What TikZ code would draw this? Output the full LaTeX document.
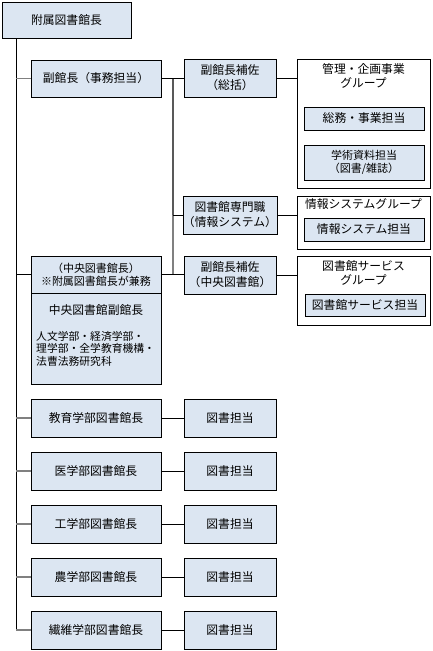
\documentclass[tikz,border=0pt]{standalone}
\usepackage{fontspec}
\setmainfont{Noto Sans CJK JP}
\usepackage{xcolor}
\usepackage{tikz}

\definecolor{boxfill}{HTML}{DCE6F2}
\definecolor{tickgray}{HTML}{808080}
\definecolor{branchgray}{HTML}{595959}

\begin{document}
\begin{tikzpicture}[x=1pt, y=-1pt,
		post/.style={draw=black, fill=boxfill, line width=0.8pt, inner sep=0pt, align=center,
			font=\fontsize{11.8}{15}\selectfont},
		group/.style={draw=black, fill=white, line width=0.8pt, inner sep=0pt},
		grouptitle/.style={inner sep=0pt, align=center, font=\fontsize{11.8}{13.5}\selectfont},
		tick/.style={draw=tickgray, line width=1.2pt},
		link/.style={draw=black, line width=0.8pt}]
			\useasboundingbox (0,0) rectangle (432,651);

			\def\dy{53}

			% Make nodes
			\node[post, minimum width=129pt, minimum height=36pt] (top) at (66.5,20) {附属図書館長};
			\node[post, minimum width=130pt, minimum height=37pt] (vice) at (96,78.5) {副館長（事務担当）};

			\node[post, minimum width=92pt, minimum height=38pt] (hosa1) at (230,78) {副館長補佐\\（総括）};
			\node[post, minimum width=92pt, minimum height=38pt] (senmon) at (230,215) {図書館専門職\\（情報システム）};
			\node[post, minimum width=92pt, minimum height=38pt] (hosa2) at (230,275) {副館長補佐\\（中央図書館）};

			\node[group, minimum width=133pt, minimum height=129pt] (kanri) at (363.5,123.5) {};
			\node[grouptitle, anchor=north] (kanrititle) at ([yshift=-5pt]kanri.north) {管理・企画事業\\グループ};
			\node[post, minimum width=120pt, minimum height=23pt] (soumu) at (364,118.5) {総務・事業担当};
			\node[post, minimum width=120pt, minimum height=35pt, font=\fontsize{11}{13}\selectfont] (gakujutsu) at (364,162.5) {学術資料担当\\（図書/雑誌）};

			\node[group, minimum width=133pt, minimum height=53pt] (joho) at (363.5,222.5) {};
			\node[grouptitle, anchor=north] (johotitle) at ([yshift=-3pt]joho.north) {情報システムグループ};
			\node[post, minimum width=120pt, minimum height=23pt] (johotanto) at (364,229.5) {情報システム担当};

			\node[group, minimum width=133pt, minimum height=69pt] (service) at (363.5,290.5) {};
			\node[grouptitle, anchor=north] (servicetitle) at ([yshift=-5pt]service.north) {図書館サービス\\グループ};
			\node[post, minimum width=120pt, minimum height=22pt] (servicetanto) at (365,305) {図書館サービス担当};

			\node[post, minimum width=130pt, minimum height=37pt, font=\fontsize{11}{12.5}\selectfont] (chuotop) at (96,274.5) {（中央図書館長）\\※附属図書館長が兼務};
			\node[post, minimum width=130pt, minimum height=91pt, anchor=north] (chuobody) at (chuotop.south) {};
			\node[grouptitle] (chuofuku) at (96,310.5) {中央図書館副館長};
			\node[grouptitle, align=left, anchor=north west, font=\fontsize{10.8}{12.5}\selectfont] (chuobu) at (36,331) {人文学部・経済学部・\\理学部・全学教育機構・\\法曹法務研究科};

			\foreach \name [count=\i from 0] in {教育学部図書館長, 医学部図書館長, 工学部図書館長, 農学部図書館長, 繊維学部図書館長} {
				\node[post, minimum width=130pt, minimum height=38pt] (fac\i) at (96,418+\i*\dy) {\name};
				\node[post, minimum width=92pt, minimum height=38pt] (tosho\i) at (230,418+\i*\dy) {図書担当};
			}

			% Make lines
			\coordinate (trunkend) at (16,630);
			\coordinate (branch) at (173,0);

			\draw[link] (top.south -| trunkend) -- (trunkend);
			\draw[tick] (vice.west -| trunkend) -- (vice.west);
			\draw[link] (chuotop.west -| trunkend) -- (chuotop.west);

			\draw[link] (vice.east) -- (hosa1.west |- vice.east);
			\draw[draw=branchgray, line width=1.2pt] (vice.east -| branch) -- (senmon.west -| branch);
			\draw[tick] (senmon.west -| branch) -- (chuotop.east -| branch);
			\draw[link] (senmon.west -| branch) -- (senmon.west);
			\draw[link] (chuotop.east) -- (hosa2.west |- chuotop.east);

			\draw[link] (hosa1.east) -- (hosa1.east -| kanri.west);
			\draw[link] (senmon.east) -- (senmon.east -| joho.west);
			\draw[link] (hosa2.east) -- (hosa2.east -| service.west);

			\foreach \i in {0,...,4} {
				\draw[tick] (fac\i.west -| trunkend) -- (fac\i.west);
				\draw[link] (fac\i.east) -- (tosho\i.west);
			}
		\end{tikzpicture}
\end{document}
